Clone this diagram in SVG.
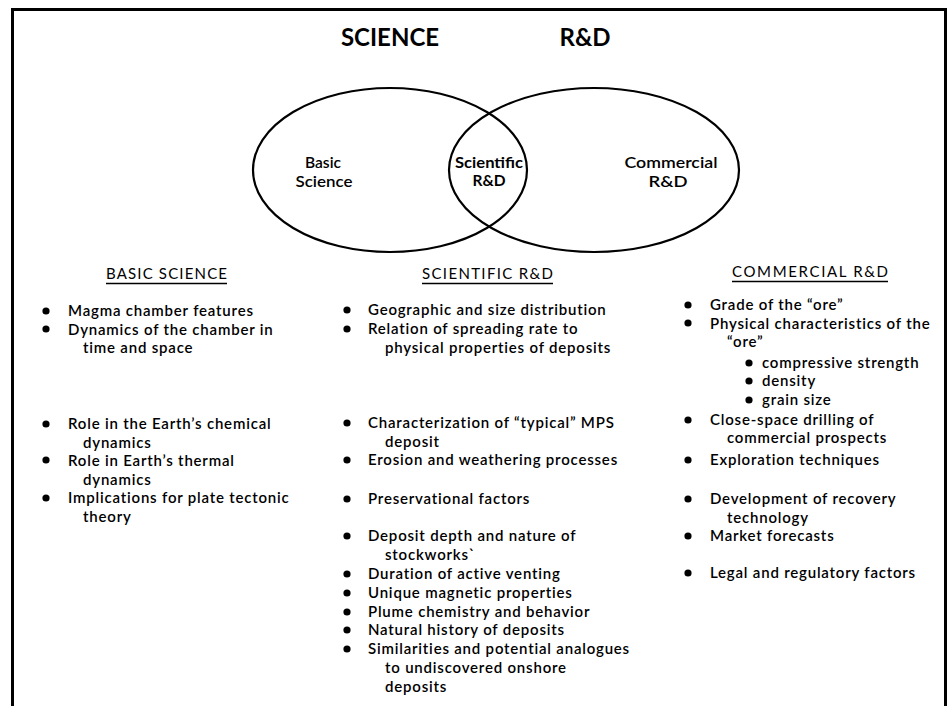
<svg xmlns="http://www.w3.org/2000/svg" width="952" height="706" viewBox="0 0 952 706">
<style>
text{font-family:Lato,"Open Sans","Liberation Sans",sans-serif;fill:#000}
.t{font-size:24px;font-weight:bold}
.v{font-size:15px;font-weight:600}
.vb{font-size:15px;font-weight:bold}
.h{font-size:15px}
.i{font-size:15px;font-weight:600;letter-spacing:0.8px}
.ul{stroke:#000;stroke-width:1.3}
.bd{fill:#000}
</style>
<rect width="952" height="706" fill="#fff"/>
<g id="frame" fill="none" stroke="#000" stroke-width="3">
<path d="M12.5,706 V9.5 H945.5 V706"/>
</g>
<g id="title">
<text class="t" x="390" y="46" text-anchor="middle">SCIENCE</text>
<text class="t" x="585" y="46" text-anchor="middle">R&amp;D</text>
</g>
<g id="connectors"></g>
<g id="venn-basic">
<ellipse cx="390" cy="170" rx="137" ry="82" fill="none" stroke="#000" stroke-width="2.2"/>
<text class="v" x="323" y="168" text-anchor="middle" textLength="36" lengthAdjust="spacingAndGlyphs">Basic</text>
<text class="v" x="324" y="187" text-anchor="middle" textLength="57" lengthAdjust="spacingAndGlyphs">Science</text>
</g>
<g id="venn-commercial">
<ellipse cx="594" cy="170" rx="145" ry="82" fill="none" stroke="#000" stroke-width="2.2"/>
<text class="v" x="671" y="168" text-anchor="middle" textLength="93" lengthAdjust="spacingAndGlyphs">Commercial</text>
<text class="v" x="668" y="187" text-anchor="middle" textLength="39" lengthAdjust="spacingAndGlyphs">R&amp;D</text>
</g>
<g id="venn-scientific">
<text class="vb" x="489" y="168" text-anchor="middle" textLength="68" lengthAdjust="spacingAndGlyphs">Scientific</text>
<text class="vb" x="489" y="186" text-anchor="middle" textLength="33" lengthAdjust="spacingAndGlyphs">R&amp;D</text>
</g>
<g id="col-basic">
<text class="h" x="166.5" y="279" text-anchor="middle" textLength="121" lengthAdjust="spacing">BASIC  SCIENCE</text>
<line class="ul" x1="106" y1="283.5" x2="227" y2="283.5"/>
<g class="bd">
<circle cx="46" cy="311" r="3.6"/><circle cx="46" cy="329" r="3.6"/>
<circle cx="46" cy="424" r="3.6"/><circle cx="46" cy="460" r="3.6"/><circle cx="46" cy="498" r="3.6"/>
</g>
<text class="i" x="68" y="316">Magma chamber features</text>
<text class="i" x="68" y="334.5">Dynamics of the chamber in</text>
<text class="i" x="83" y="353">time and space</text>
<text class="i" x="68" y="429">Role in the Earth’s chemical</text>
<text class="i" x="83" y="447.5">dynamics</text>
<text class="i" x="68" y="466">Role in Earth’s thermal</text>
<text class="i" x="83" y="484.5">dynamics</text>
<text class="i" x="68" y="503">Implications for plate tectonic</text>
<text class="i" x="83" y="521.5">theory</text>
</g>
<g id="col-scientific">
<text class="h" x="487.5" y="279" text-anchor="middle" textLength="131" lengthAdjust="spacing">SCIENTIFIC  R&amp;D</text>
<line class="ul" x1="422" y1="283.5" x2="553" y2="283.5"/>
<g class="bd">
<circle cx="347" cy="310" r="3.6"/><circle cx="347" cy="329" r="3.6"/>
<circle cx="347" cy="423" r="3.6"/><circle cx="347" cy="460" r="3.6"/><circle cx="347" cy="499" r="3.6"/>
<circle cx="347" cy="536" r="3.6"/><circle cx="347" cy="574" r="3.6"/><circle cx="347" cy="593" r="3.6"/>
<circle cx="347" cy="612" r="3.6"/><circle cx="347" cy="630" r="3.6"/><circle cx="347" cy="649" r="3.6"/>
</g>
<text class="i" x="368" y="315">Geographic and size distribution</text>
<text class="i" x="368" y="334">Relation of spreading rate to</text>
<text class="i" x="385" y="353">physical properties of deposits</text>
<text class="i" x="368" y="428">Characterization of “typical” MPS</text>
<text class="i" x="385" y="446.5">deposit</text>
<text class="i" x="368" y="465">Erosion and weathering processes</text>
<text class="i" x="368" y="504">Preservational factors</text>
<text class="i" x="368" y="541">Deposit depth and nature of</text>
<text class="i" x="385" y="559.5">stockworks`</text>
<text class="i" x="368" y="579">Duration of active venting</text>
<text class="i" x="368" y="598">Unique magnetic properties</text>
<text class="i" x="368" y="616.5">Plume chemistry and behavior</text>
<text class="i" x="368" y="635">Natural history of deposits</text>
<text class="i" x="368" y="654">Similarities and potential analogues</text>
<text class="i" x="385" y="673">to undiscovered onshore</text>
<text class="i" x="385" y="692">deposits</text>
</g>
<g id="col-commercial">
<text class="h" x="810" y="277" text-anchor="middle" textLength="156" lengthAdjust="spacing">COMMERCIAL  R&amp;D</text>
<line class="ul" x1="732" y1="281.5" x2="888" y2="281.5"/>
<g class="bd">
<circle cx="688" cy="305" r="3.6"/><circle cx="688" cy="323" r="3.6"/>
<circle cx="749" cy="363" r="3.6"/><circle cx="749" cy="381" r="3.6"/><circle cx="749" cy="400" r="3.6"/>
<circle cx="688" cy="420" r="3.6"/><circle cx="688" cy="460" r="3.6"/><circle cx="688" cy="499" r="3.6"/>
<circle cx="688" cy="536" r="3.6"/><circle cx="688" cy="573" r="3.6"/>
</g>
<text class="i" x="710" y="310">Grade of the “ore”</text>
<text class="i" x="710" y="328.5">Physical characteristics of the</text>
<text class="i" x="727" y="347">“ore”</text>
<text class="i" x="762" y="367.5">compressive strength</text>
<text class="i" x="762" y="386">density</text>
<text class="i" x="762" y="404.5">grain size</text>
<text class="i" x="710" y="424.5">Close-space drilling of</text>
<text class="i" x="727" y="443">commercial prospects</text>
<text class="i" x="710" y="465">Exploration techniques</text>
<text class="i" x="710" y="504">Development of recovery</text>
<text class="i" x="727" y="522.5">technology</text>
<text class="i" x="710" y="541">Market forecasts</text>
<text class="i" x="710" y="578">Legal and regulatory factors</text>
</g>
</svg>
